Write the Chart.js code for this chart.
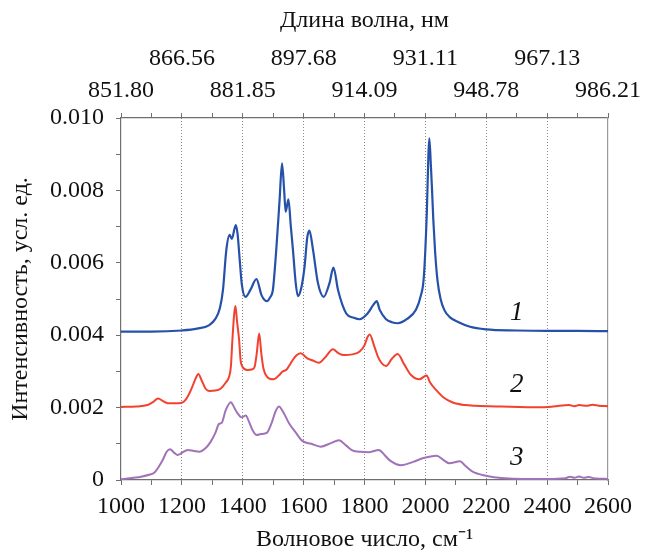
<!DOCTYPE html>
<html lang="ru">
<head>
<meta charset="utf-8">
<title>Спектры</title>
<script src="https://cdn.jsdelivr.net/npm/chart.js@4"></script>
<style>
  html, body { margin: 0; padding: 0; background: #fff; }
  #spectra { display: block; }
</style>
</head>
<body>
<canvas id="spectra" width="648" height="555"></canvas>
<script>
// wavenumber axis, cm^-1
const xTicks = [1000, 1200, 1400, 1600, 1800, 2000, 2200, 2400, 2600];
// matching wavelengths for the top axis, nm
const wavelengthLabels = ['851.80', '866.56', '881.85', '897.68', '914.09', '931.11', '948.78', '967.13', '986.21'];

// curve 1 (blue)
const wn1 = [1000, 1100, 1200, 1250, 1290, 1310, 1325, 1335, 1346, 1357, 1364, 1377, 1383, 1390, 1397, 1409, 1425, 1445, 1462, 1479,
  1490, 1499, 1510, 1521, 1529, 1536, 1541, 1550, 1558, 1565, 1574, 1581, 1592, 1603, 1612, 1619, 1631, 1647, 1666, 1685,
  1698, 1713, 1740, 1765, 1784, 1810, 1830, 1840, 1850, 1870, 1890, 1909, 1940, 1969, 1984, 1995, 2005, 2010, 2013, 2018,
  2022, 2026, 2032, 2040, 2050, 2062, 2080, 2111, 2144, 2199, 2300, 2400, 2500, 2600];
const int1 = [0.00410, 0.00410, 0.00413, 0.00418, 0.00428, 0.00445, 0.00475, 0.00525, 0.00635, 0.00677, 0.00666, 0.00704, 0.00680, 0.00608, 0.00540, 0.00506, 0.00525, 0.00555, 0.00510, 0.00494,
  0.00505, 0.00525, 0.00635, 0.00773, 0.00875, 0.00800, 0.00741, 0.00775, 0.00700, 0.00635, 0.00544, 0.00508, 0.00530, 0.00589, 0.00670, 0.00689, 0.00635, 0.00544, 0.00506, 0.00544,
  0.00587, 0.00525, 0.00460, 0.00448, 0.00444, 0.00460, 0.00485, 0.00494, 0.00470, 0.00445, 0.00436, 0.00433, 0.00445, 0.00470, 0.00506, 0.00562, 0.00746, 0.00900, 0.00944, 0.00870,
  0.00800, 0.00720, 0.00630, 0.00550, 0.00500, 0.00470, 0.00450, 0.00435, 0.00424, 0.00416, 0.00413, 0.00412, 0.00412, 0.00411];

// curve 2 (red)
const wn2 = [1000, 1050, 1087, 1105, 1122, 1138, 1153, 1197, 1215, 1230, 1245, 1254, 1265, 1278, 1290, 1310, 1328, 1345, 1355, 1361,
  1366, 1372, 1376, 1381, 1388, 1393, 1399, 1415, 1432, 1439, 1446, 1454, 1461, 1468, 1480, 1501, 1520, 1530, 1545, 1557,
  1575, 1590, 1612, 1630, 1650, 1672, 1696, 1715, 1732, 1760, 1784, 1800, 1810, 1817, 1832, 1844, 1857, 1871, 1890, 1909,
  1930, 1953, 1980, 2004, 2015, 2035, 2060, 2090, 2130, 2166, 2250, 2374, 2420, 2472, 2490, 2505, 2530, 2549, 2570, 2600];
const int2 = [0.00202, 0.00203, 0.00207, 0.00215, 0.00225, 0.00218, 0.00212, 0.00213, 0.00225, 0.00249, 0.00280, 0.00293, 0.00275, 0.00252, 0.00246, 0.00247, 0.00253, 0.00270, 0.00285, 0.00313,
  0.00387, 0.00460, 0.00481, 0.00440, 0.00387, 0.00330, 0.00313, 0.00304, 0.00306, 0.00313, 0.00350, 0.00405, 0.00350, 0.00308, 0.00285, 0.00278, 0.00290, 0.00299, 0.00306, 0.00322,
  0.00343, 0.00350, 0.00336, 0.00330, 0.00324, 0.00340, 0.00361, 0.00350, 0.00345, 0.00347, 0.00355, 0.00372, 0.00395, 0.00402, 0.00370, 0.00341, 0.00322, 0.00315, 0.00335, 0.00348,
  0.00320, 0.00290, 0.00278, 0.00289, 0.00270, 0.00249, 0.00228, 0.00214, 0.00207, 0.00205, 0.00203, 0.00201, 0.00203, 0.00207, 0.00204, 0.00207, 0.00205, 0.00208, 0.00205, 0.00204];

// curve 3 (purple)
const wn3 = [1000, 1066, 1095, 1109, 1125, 1137, 1150, 1161, 1175, 1186, 1200, 1219, 1240, 1257, 1280, 1295, 1310, 1322, 1331, 1344,
  1361, 1372, 1383, 1396, 1410, 1420, 1432, 1446, 1460, 1479, 1495, 1508, 1519, 1530, 1552, 1575, 1596, 1625, 1656, 1690,
  1716, 1740, 1765, 1816, 1847, 1865, 1882, 1920, 1960, 1991, 2037, 2060, 2079, 2114, 2130, 2155, 2199, 2260, 2319, 2400,
  2460, 2475, 2490, 2505, 2520, 2535, 2560, 2600];
const int3 = [0.00002, 0.00009, 0.00015, 0.00020, 0.00038, 0.00055, 0.00078, 0.00085, 0.00075, 0.00069, 0.00075, 0.00083, 0.00080, 0.00078, 0.00090, 0.00106, 0.00130, 0.00155, 0.00158, 0.00193,
  0.00215, 0.00200, 0.00184, 0.00173, 0.00178, 0.00162, 0.00138, 0.00124, 0.00127, 0.00130, 0.00158, 0.00190, 0.00203, 0.00192, 0.00157, 0.00130, 0.00108, 0.00100, 0.00092, 0.00102,
  0.00110, 0.00095, 0.00080, 0.00077, 0.00083, 0.00070, 0.00055, 0.00041, 0.00050, 0.00060, 0.00067, 0.00055, 0.00046, 0.00052, 0.00040, 0.00023, 0.00012, 0.00005, 0.00003, 0.00003,
  0.00005, 0.00009, 0.00006, 0.00010, 0.00006, 0.00008, 0.00004, 0.00003];

// curve numbers written next to each trace
const curveNames = ['1', '2', '3'];
const curveNameX = [2300, 2300, 2300];
const curveNameY = [0.00462, 0.00262, 0.00062];

const serif = "'Liberation Serif', 'Times New Roman', serif";
const axisColor = '#6f6f6f';

function toPoints(xs, ys) {
  return xs.map((x, i) => ({ x: x, y: ys[i] }));
}

// italic numbers 1, 2, 3 on the right side
const curveNamesPlugin = {
  id: 'curveNames',
  afterDatasetsDraw(chart) {
    const ctx = chart.ctx;
    const xScale = chart.scales.x;
    const yScale = chart.scales.y;
    ctx.save();
    ctx.font = "italic 27px " + serif;
    ctx.fillStyle = '#111';
    ctx.textAlign = 'center';
    ctx.textBaseline = 'middle';
    curveNames.forEach((name, i) => {
      ctx.fillText(name, xScale.getPixelForValue(curveNameX[i]), yScale.getPixelForValue(curveNameY[i]));
    });
    ctx.restore();
  }
};

document.addEventListener("DOMContentLoaded", function () {
  const ctx = document.getElementById("spectra").getContext("2d");

  new Chart(ctx, {
    type: 'line',
    data: {
      datasets: [
        { data: toPoints(wn1, int1), borderColor: '#2552a8', borderWidth: 2.2 },
        { data: toPoints(wn2, int2), borderColor: '#f2412f', borderWidth: 2 },
        { data: toPoints(wn3, int3), borderColor: '#a073b8', borderWidth: 2 }
      ]
    },
    options: {
      responsive: false,
      animation: false,
      devicePixelRatio: 1,
      layout: { padding: { left: 0, right: 39, top: 0, bottom: 0 } },
      elements: {
        point: { radius: 0 },
        line: { cubicInterpolationMode: 'monotone', fill: false }
      },
      plugins: {
        legend: { display: false },
        tooltip: { enabled: false }
      },
      scales: {
        x: {
          type: 'linear',
          position: 'bottom',
          min: 1000,
          max: 2600,
          afterFit: (scale) => { scale.height = 75; },
          ticks: {
            stepSize: 100,
            autoSkip: false,
            maxRotation: 0,
            padding: 7,
            color: '#111',
            font: { family: serif, size: 24 },
            callback: (v) => (v % 200 === 0 ? String(v) : '')
          },
          grid: {
            color: (c) => (c.tick && c.tick.value % 200 === 0 && c.tick.value > 1000 && c.tick.value < 2600 ? '#8a8a8a' : 'rgba(0,0,0,0)'),
            lineWidth: 1,
            tickColor: axisColor,
            tickLength: 5,
            tickBorderDash: []
          },
          border: { color: axisColor, width: 1.2, dash: [1, 2] },
          title: {
            display: true,
            text: 'Волновое число, см⁻¹',
            color: '#111',
            font: { family: serif, size: 24 },
            padding: { top: 0, bottom: 1 }
          }
        },
        xTop: {
          type: 'linear',
          position: 'top',
          min: 1000,
          max: 2600,
          afterFit: (scale) => { scale.height = 118; },
          ticks: {
            stepSize: 100,
            autoSkip: false,
            maxRotation: 0,
            padding: 7,
            color: '#111',
            font: { family: serif, size: 24, lineHeight: 1.3 },
            callback: function (v) {
              if (v % 200 !== 0) return '';
              const i = (v - 1000) / 200;
              // alternate the two rows of labels
              return i % 2 === 0 ? ['', wavelengthLabels[i]] : [wavelengthLabels[i], ''];
            }
          },
          grid: { drawOnChartArea: false, color: axisColor, tickLength: 5 },
          border: { color: axisColor, width: 1.2 },
          title: {
            display: true,
            text: 'Длина волна, нм',
            color: '#111',
            font: { family: serif, size: 24 },
            padding: { top: 6, bottom: 0 }
          }
        },
        y: {
          type: 'linear',
          position: 'left',
          min: 0,
          max: 0.010,
          afterFit: (scale) => { scale.width = 121; },
          ticks: {
            stepSize: 0.001,
            autoSkip: false,
            padding: 12,
            color: '#111',
            font: { family: serif, size: 24 },
            callback: function (v) {
              const k = Math.round(v * 1000);
              if (k % 2 !== 0) return '';
              return k === 0 ? '0' : v.toFixed(3);
            }
          },
          grid: { drawOnChartArea: false, color: axisColor, tickLength: 5 },
          border: { color: axisColor, width: 1.2 },
          title: {
            display: true,
            text: 'Интенсивность, усл. ед.',
            color: '#111',
            font: { family: serif, size: 24 },
            padding: { top: 6, bottom: 0 }
          }
        },
        yRight: {
          type: 'linear',
          position: 'right',
          min: 0,
          max: 0.010,
          afterFit: (scale) => { scale.width = 0; },
          ticks: { display: false },
          grid: { drawOnChartArea: false, drawTicks: false },
          border: { color: '#9a9a9a', width: 1.2 }
        }
      }
    },
    plugins: [curveNamesPlugin]
  });
});
</script>
</body>
</html>
